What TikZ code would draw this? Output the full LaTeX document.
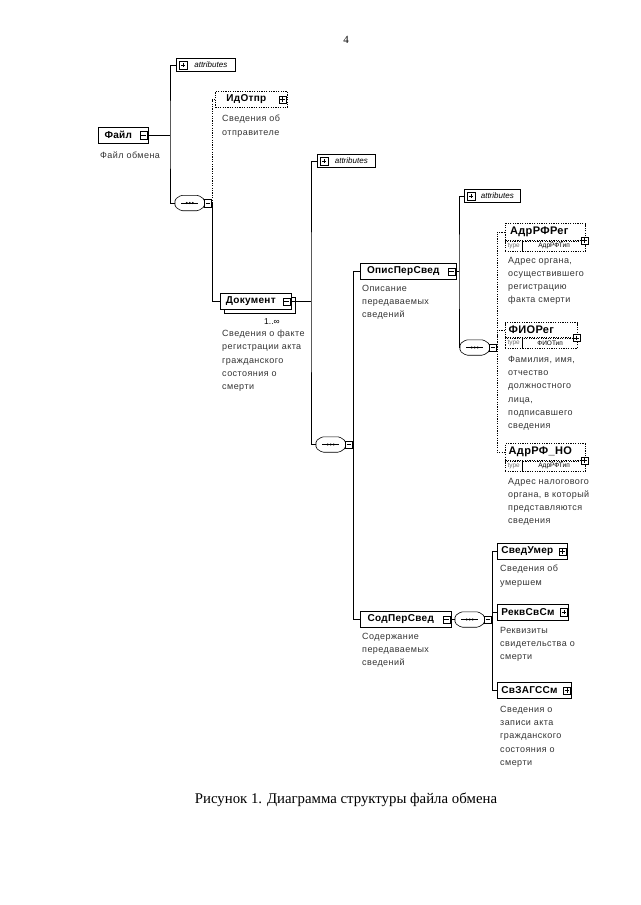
\documentclass[tikz,border=0pt]{standalone}
\usepackage{fontspec}
\setmainfont{Liberation Serif}
\setsansfont{Liberation Sans}
\newfontfamily\descfont[LetterSpace=5]{Liberation Sans}
\newfontfamily\namefont[LetterSpace=3]{Liberation Sans}
\usepackage{tikz}
\usetikzlibrary{positioning,calc}
\tikzset{
  elem/.style={
    rectangle, draw, line width=0.6pt, fill=white,
    minimum height=16pt, inner xsep=4pt, anchor=west,
    font=\namefont\bfseries\fontsize{10}{12}\selectfont
  },
  optelem/.style={elem, dash pattern=on 1.2pt off 1.2pt},
  typedelem/.style={optelem, minimum height=15pt, inner xsep=3pt,
    font=\namefont\bfseries\fontsize{11}{12}\selectfont},
  markbox/.style={
    rectangle, draw, line width=0.5pt, fill=white,
    minimum size=7.5pt, inner sep=0pt
  },
  minusbox/.style={markbox,
    path picture={\draw[line width=0.5pt]
      ([xshift=1.5pt]path picture bounding box.west) -- ([xshift=-1.5pt]path picture bounding box.east);}
  },
  plusbox/.style={markbox,
    path picture={\draw[line width=0.5pt]
      ([xshift=1.5pt]path picture bounding box.west) -- ([xshift=-1.5pt]path picture bounding box.east)
      ([yshift=-1.5pt]path picture bounding box.north) -- ([yshift=1.5pt]path picture bounding box.south);}
  },
  attrbox/.style={
    rectangle, draw, line width=0.6pt, fill=white, anchor=west,
    minimum height=13pt, inner xsep=3pt,
    font=\sffamily\itshape\fontsize{8}{9}\selectfont
  },
  seqbox/.style={
    rectangle, minimum width=29pt, minimum height=15pt, inner sep=0pt, anchor=west
  },
  typecell/.style={
    rectangle, draw, dash pattern=on 1.2pt off 1.2pt, anchor=north west,
    minimum height=10pt, inner xsep=1.5pt, inner ysep=0pt,
    font=\sffamily\fontsize{6.5}{7}\selectfont
  },
  desc/.style={
    anchor=north west, inner sep=0pt, align=left,
    font=\descfont\fontsize{9}{13.2}\selectfont, text=black!80
  },
  link/.style={line width=0.6pt},
  optlink/.style={link, dash pattern=on 1.2pt off 1.2pt},
}
% sequence compositor drawn round a named seqbox node
\newcommand{\seqmark}[1]{%
  \draw[link, fill=white, rounded corners=1.5pt]
    ([xshift=6pt]#1.north west) -- ([xshift=-6pt]#1.north east)
    -- ([yshift=-4pt]#1.north east) -- ([yshift=4pt]#1.south east)
    -- ([xshift=-6pt]#1.south east) -- ([xshift=6pt]#1.south west)
    -- ([yshift=4pt]#1.south west) -- ([yshift=-4pt]#1.north west) -- cycle;
  \draw[link] ([xshift=6pt]#1.west) -- ([xshift=-6pt]#1.east);
  \foreach \dx in {-3,0,3}
    \fill ([xshift=\dx pt]#1.center) circle (1.1pt);
}

\begin{document}
\begin{tikzpicture}[x=1pt,y=-1pt]
  \useasboundingbox (0,0) rectangle (640,905);
  \node[font=\rmfamily\fontsize{11}{13}\selectfont] (pagenum) at (346,40) {4};

  % Root element
  \node[elem, minimum width=50pt] (file) at (98,135) {Файл\kern10pt};
  \node[minusbox] (fileM) at ([xshift=-5pt]file.east) {};
  \node[desc] (fileD) at (100,152) {Файл обмена};

  \node[attrbox, minimum width=59pt] (attrA) at (176,65) {\kern10pt attributes};
  \node[plusbox] at ([xshift=7pt]attrA.west) {};
  \node[seqbox] (seqA) at (175,203) {};
  \seqmark{seqA}
  \node[minusbox] (seqAM) at ([xshift=3.5pt]seqA.east) {};
  \coordinate (jA) at (170,135);
  \draw[link] (fileM.east) -- (jA);
  \draw[link] (attrA.west) -| (jA) |- (seqA.west);

  % Sender and document
  \node[optelem, minimum width=72pt] (sender) at (215,99.5) {ИдОтпр\kern10pt};
  \node[plusbox] (senderP) at ([xshift=-5pt]sender.east) {};
  \node[desc] (senderD) at (222,115) {Сведения об\\отправителе};

  \node[elem, minimum width=71pt, fill=none] (docB) at (224,305) {\phantom{Документ}\kern10pt};
  \node[elem, minimum width=71pt] (doc) at (220,301.5) {Документ\kern10pt};
  \node[minusbox] (docM) at ([xshift=-5pt]doc.east) {};
  \node[font=\sffamily\fontsize{8.5}{10}\selectfont] (docN) at (272,322) {1..∞};
  \node[desc] (docD) at (222,330) {Сведения о факте\\регистрации акта\\гражданского\\состояния о\\смерти};
  \draw[optlink] (sender.west) -| (seqAM.east);
  \draw[link] (seqAM.east) |- (doc.west);

  % Document content
  \node[attrbox, minimum width=58pt] (attrB) at (317,161) {\kern10pt attributes};
  \node[plusbox] at ([xshift=7pt]attrB.west) {};
  \node[seqbox] (seqB) at (316,444.5) {};
  \seqmark{seqB}
  \node[minusbox] (seqBM) at ([xshift=3.5pt]seqB.east) {};
  \coordinate (jB) at (311,301.5);
  \draw[link] (docM.east) -- (jB);
  \draw[link] (attrB.west) -| (jB) |- (seqB.west);

  \node[elem, minimum width=96pt] (opis) at (360,271.5) {ОписПерСвед\kern10pt};
  \node[minusbox] (opisM) at ([xshift=-5pt]opis.east) {};
  \node[desc] (opisD) at (362,285) {Описание\\передаваемых\\сведений};
  \node[elem, minimum width=91pt] (sod) at (360,619.5) {СодПерСвед\kern10pt};
  \node[minusbox] (sodM) at ([xshift=-5pt]sod.east) {};
  \node[desc] (sodD) at (362,633) {Содержание\\передаваемых\\сведений};
  \draw[link] (opis.west) -| (seqBM.east) |- (sod.west);

  % Description of the transfer
  \node[attrbox, minimum width=56pt] (attrC) at (464,196) {\kern10pt attributes};
  \node[plusbox] at ([xshift=7pt]attrC.west) {};
  \node[seqbox] (seqC) at (460,347.5) {};
  \seqmark{seqC}
  \node[minusbox] (seqCM) at ([xshift=3.5pt]seqC.east) {};
  \coordinate (jC) at (459,271.5);
  \draw[link] (opisM.east) -- (jC);
  \draw[link] (attrC.west) -| (jC) |- (seqC.west);

  \node[typedelem, minimum width=80pt] (adrReg) at (505,232) {АдрРФРег\kern12pt};
  \node[typecell, minimum width=17pt, text=black!55] (adrRegT) at (adrReg.south west) {type};
  \node[typecell, minimum width=63pt] (adrRegV) at (adrRegT.north east) {АдрРФТип};
  \draw[link] (adrRegV.north west) -- (adrRegV.south west);
  \node[plusbox] (adrRegP) at ([xshift=-1pt]adrReg.south east) {};
  \node[desc] (adrRegD) at (508,257) {Адрес органа,\\осуществившего\\регистрацию\\факта смерти};

  \node[typedelem, minimum width=72pt] (fio) at (505,330) {ФИОРег\kern20pt};
  \node[typecell, minimum width=17pt, text=black!55] (fioT) at (fio.south west) {type};
  \node[typecell, minimum width=55pt] (fioV) at (fioT.north east) {ФИОТип};
  \draw[link] (fioV.north west) -- (fioV.south west);
  \node[plusbox] (fioP) at ([xshift=-1pt]fio.south east) {};
  \node[desc] (fioD) at (508,356) {Фамилия, имя,\\отчество\\должностного\\лица,\\подписавшего\\сведения};

  \node[typedelem, minimum width=80pt] (adrNO) at (505,452) {АдрРФ\_НО\kern10pt};
  \node[typecell, minimum width=17pt, text=black!55] (adrNOT) at (adrNO.south west) {type};
  \node[typecell, minimum width=63pt] (adrNOV) at (adrNOT.north east) {АдрРФТип};
  \draw[link] (adrNOV.north west) -- (adrNOV.south west);
  \node[plusbox] (adrNOP) at ([xshift=-1pt]adrNO.south east) {};
  \node[desc] (adrNOD) at (508,478) {Адрес налогового\\органа, в который\\представляются\\сведения};

  \draw[optlink] (adrReg.west) -| (seqCM.east) |- (adrNO.west);
  \draw[optlink] (fio.west) -| (seqCM.east);

  % Content of the transfer
  \node[seqbox] (seqD) at (455,619.5) {};
  \seqmark{seqD}
  \node[minusbox] (seqDM) at ([xshift=3.5pt]seqD.east) {};
  \draw[link] (sodM.east) -- (seqD.west);

  \node[elem, minimum width=70pt] (dead) at (497,551.5) {СведУмер\kern10pt};
  \node[plusbox] (deadP) at ([xshift=-5pt]dead.east) {};
  \node[desc] (deadD) at (500,565) {Сведения об\\умершем};
  \node[elem, minimum width=70pt] (cert) at (497,612) {РеквСвСм\kern10pt};
  \node[plusbox] (certP) at ([xshift=-5pt]cert.east) {};
  \node[desc] (certD) at (500,627) {Реквизиты\\свидетельства о\\смерти};
  \node[elem, minimum width=70pt] (zags) at (497,690.5) {СвЗАГССм\kern10pt};
  \node[plusbox] (zagsP) at ([xshift=-5pt]zags.east) {};
  \node[desc] (zagsD) at (500,706) {Сведения о\\записи акта\\гражданского\\состояния о\\смерти};
  \draw[link] (dead.west) -| (seqDM.east) |- (zags.west);
  \draw[link] (cert.west) -| (seqDM.east);

  \node[font=\rmfamily\fontsize{14.8}{17}\selectfont] (caption) at (346,800) {Рисунок 1. Диаграмма структуры файла обмена};
\end{tikzpicture}
\end{document}
